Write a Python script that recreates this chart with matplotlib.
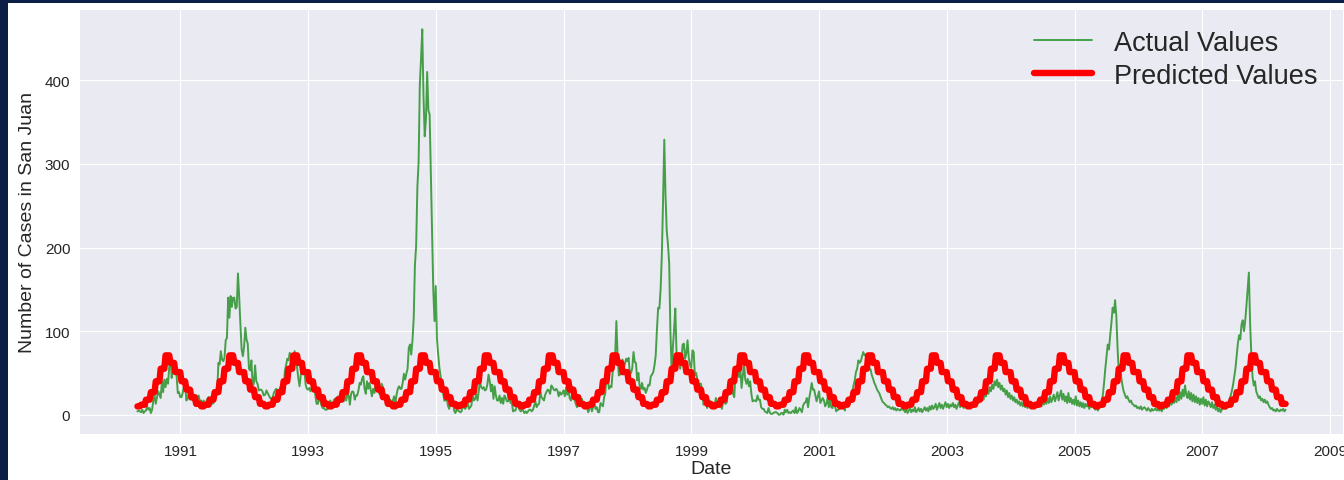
import matplotlib
matplotlib.use("Agg")
import matplotlib.pyplot as plt
import matplotlib.dates as mdates
from matplotlib.patches import Rectangle
import numpy as np
import pandas as pd

# weekly dengue cases, one season (starting 30 April) per list
season_years = list(range(1990, 2008))
cases_1990 = [4, 5, 4, 3, 6, 2, 4, 5, 10, 6, 8, 2, 6, 17, 23, 13, 21, 28, 24, 20, 40, 27, 42, 33, 43, 37,
              57, 71, 44, 56, 53, 52, 47, 26, 27, 21, 21, 26, 34, 37, 17, 19, 25, 18, 21, 17, 17, 16, 16, 15, 23, 16]
cases_1991 = [17, 12, 17, 10, 15, 19, 21, 14, 18, 13, 14, 18, 23, 25, 62, 60, 76, 66, 64, 68, 89, 92, 140, 116, 142, 129,
              140, 140, 127, 129, 169, 141, 108, 78, 70, 81, 104, 90, 85, 55, 53, 65, 33, 38, 59, 40, 37, 29, 30, 30, 28, 23]
cases_1992 = [24, 29, 26, 23, 20, 19, 20, 26, 29, 31, 28, 26, 32, 35, 33, 30, 52, 59, 67, 65, 74, 70, 61, 53, 76, 61,
              57, 44, 34, 47, 60, 60, 53, 36, 31, 30, 32, 28, 33, 33, 35, 22, 13, 13, 21, 17, 11, 8, 8, 6, 6, 7]
cases_1993 = [12, 17, 10, 10, 18, 19, 12, 22, 12, 21, 18, 16, 16, 22, 17, 25, 23, 12, 25, 28, 27, 18, 23, 23, 29, 38,
              36, 43, 46, 31, 25, 40, 31, 38, 30, 22, 31, 26, 35, 36, 39, 25, 31, 37, 33, 25, 24, 18, 23, 13, 18, 14]
cases_1994 = [17, 22, 13, 24, 31, 34, 31, 31, 38, 49, 42, 49, 55, 80, 84, 72, 89, 115, 179, 202, 272, 302, 395, 426, 461, 381,
              333, 353, 410, 364, 359, 288, 221, 149, 112, 154, 91, 72, 56, 46, 37, 26, 17, 17, 20, 11, 7, 16, 14, 16, 5, 2]
cases_1995 = [6, 5, 4, 3, 4, 16, 8, 7, 10, 14, 7, 9, 11, 23, 17, 19, 24, 17, 28, 40, 33, 31, 33, 29, 30, 36,
              48, 40, 28, 36, 19, 34, 23, 17, 17, 23, 14, 20, 13, 23, 20, 16, 16, 23, 14, 15, 4, 5, 5, 11, 11, 7]
cases_1996 = [4, 6, 5, 2, 4, 2, 4, 6, 6, 4, 6, 11, 16, 9, 12, 13, 27, 21, 19, 17, 24, 27, 30, 29, 25, 35,
              33, 30, 29, 31, 29, 22, 27, 24, 26, 29, 22, 33, 24, 30, 20, 17, 24, 28, 18, 13, 9, 14, 11, 11, 19, 10]
cases_1997 = [8, 8, 9, 3, 7, 14, 4, 9, 14, 7, 9, 3, 3, 14, 12, 10, 21, 26, 47, 42, 31, 34, 33, 52, 56, 70,
              112, 70, 47, 48, 49, 66, 56, 61, 67, 64, 68, 49, 50, 56, 75, 63, 62, 41, 50, 34, 31, 38, 30, 32, 26, 30]
cases_1998 = [36, 35, 46, 48, 51, 59, 71, 102, 128, 127, 150, 191, 256, 329, 263, 220, 204, 181, 99, 54, 80, 102, 127, 73, 68, 64,
              55, 67, 84, 85, 67, 73, 89, 68, 59, 56, 77, 75, 47, 50, 42, 28, 37, 37, 27, 12, 15, 22, 8, 15, 17, 12]
cases_1999 = [10, 9, 11, 20, 13, 11, 16, 11, 7, 17, 14, 13, 15, 30, 25, 40, 44, 25, 21, 48, 56, 60, 45, 55, 32, 46,
              61, 42, 37, 43, 34, 40, 25, 16, 17, 17, 16, 23, 18, 18, 9, 7, 7, 4, 3, 2, 8, 3, 1, 1, 2, 3]
cases_2000 = [3, 2, 0, 0, 2, 2, 0, 6, 3, 6, 2, 3, 2, 4, 5, 2, 9, 2, 4, 8, 6, 3, 11, 14, 15, 20,
              9, 20, 28, 38, 30, 30, 23, 16, 22, 28, 14, 17, 20, 17, 10, 13, 20, 9, 18, 9, 8, 19, 11, 4, 6, 6]
cases_2001 = [8, 13, 8, 8, 5, 16, 12, 11, 18, 22, 27, 35, 41, 51, 55, 65, 62, 64, 70, 75, 71, 72, 65, 61, 55, 54,
              47, 43, 38, 35, 31, 28, 26, 22, 18, 15, 14, 12, 11, 9, 10, 8, 7, 9, 6, 8, 5, 7, 6, 5, 7, 6]
cases_2002 = [6, 3, 7, 2, 5, 8, 3, 6, 4, 9, 3, 5, 8, 4, 7, 3, 6, 9, 5, 8, 4, 10, 6, 11, 7, 9,
              13, 6, 10, 14, 8, 12, 7, 11, 15, 9, 13, 8, 12, 10, 14, 9, 12, 7, 11, 15, 9, 13, 10, 8, 12, 11]
cases_2003 = [12, 8, 14, 10, 15, 11, 16, 13, 19, 14, 21, 16, 24, 18, 27, 22, 30, 25, 33, 28, 36, 31, 40, 35, 42, 33,
              38, 30, 35, 28, 31, 24, 29, 21, 26, 19, 23, 17, 21, 15, 18, 13, 16, 11, 15, 10, 13, 9, 12, 8, 11, 9]
cases_2004 = [10, 14, 8, 13, 9, 16, 11, 15, 10, 18, 12, 17, 13, 20, 14, 22, 15, 19, 24, 16, 21, 27, 17, 23, 29, 18,
              25, 16, 22, 14, 26, 15, 20, 13, 18, 12, 22, 11, 17, 10, 15, 9, 14, 8, 13, 10, 12, 7, 11, 9, 10, 8]
cases_2005 = [6, 8, 5, 9, 12, 15, 24, 38, 55, 70, 84, 78, 95, 110, 128, 122, 137, 118, 80, 52, 60, 45, 35, 28, 24, 20,
              22, 18, 15, 17, 13, 12, 10, 11, 8, 9, 7, 10, 6, 8, 9, 7, 5, 8, 6, 4, 7, 5, 6, 8, 5, 6]
cases_2006 = [5, 8, 4, 9, 7, 12, 8, 14, 10, 16, 12, 18, 14, 21, 15, 24, 17, 27, 19, 30, 22, 35, 24, 20, 28, 18,
              26, 16, 24, 15, 22, 14, 20, 12, 19, 13, 21, 11, 18, 10, 16, 13, 9, 15, 8, 12, 6, 10, 4, 8, 3, 6]
cases_2007 = [8, 10, 7, 12, 14, 18, 22, 28, 35, 45, 55, 70, 85, 95, 90, 108, 113, 100, 112, 130, 150, 170, 110, 72, 45, 35,
              40, 28, 24, 20, 22, 17, 19, 15, 18, 14, 16, 12, 9, 7, 8, 5, 6, 4, 7, 5, 4, 6, 5, 7, 4, 6]

# predicted level for each 4-week period of the year
period_levels = [40, 30, 21, 13, 10, 12, 18, 27, 40, 55, 71, 62, 51]

tick_years = list(range(1991, 2010, 2))

seasons = [cases_1990, cases_1991, cases_1992, cases_1993, cases_1994, cases_1995,
           cases_1996, cases_1997, cases_1998, cases_1999, cases_2000, cases_2001,
           cases_2002, cases_2003, cases_2004, cases_2005, cases_2006, cases_2007]

dates = pd.DatetimeIndex(np.concatenate(
    [pd.date_range(f"{y}-04-30", periods=len(c), freq="7D").values
     for y, c in zip(season_years, seasons)]))
actual = np.concatenate(seasons)
week = (dates.dayofyear.values - 1) // 7
predicted = np.array(period_levels)[np.minimum(week // 4, 12)]

plt.style.use("seaborn-v0_8-darkgrid")
plt.rcParams["font.family"] = ["Liberation Sans", "DejaVu Sans"]

fig = plt.figure(figsize=(13.44, 4.81), dpi=100)
fig.patch.set_facecolor("white")
navy = "#0b1e45"
fig.patches.append(Rectangle((0, 0), 8 / 1344, 1, transform=fig.transFigure,
                             facecolor=navy, edgecolor="none", zorder=-1))
fig.patches.append(Rectangle((0, 1 - 4 / 481), 1, 4 / 481, transform=fig.transFigure,
                             facecolor=navy, edgecolor="none", zorder=-1))

ax = fig.add_axes([80 / 1344, 46 / 481, 1263 / 1344, 424 / 481])
ax.plot(dates, actual, color="green", alpha=0.7, lw=1.4, label="Actual Values")
ax.plot(dates, predicted, color="red", lw=4.6, label="Predicted Values")

ax.set_xticks([pd.Timestamp(f"{y}-01-01") for y in tick_years])
ax.xaxis.set_major_formatter(mdates.DateFormatter("%Y"))
ax.tick_params(labelsize=11, length=0, pad=7)
ax.set_xlabel("Date", fontsize=14, labelpad=2)
ax.set_ylabel("Number of Cases in San Juan", fontsize=14, labelpad=6)
ax.legend(loc="upper right", bbox_to_anchor=(1 - 7 / 1263, 1 - 1 / 424),
          fontsize=19.5, frameon=False, handlelength=2.15,
          labelspacing=0.25, borderaxespad=0.3)

fig.savefig("out.png", dpi=100)
